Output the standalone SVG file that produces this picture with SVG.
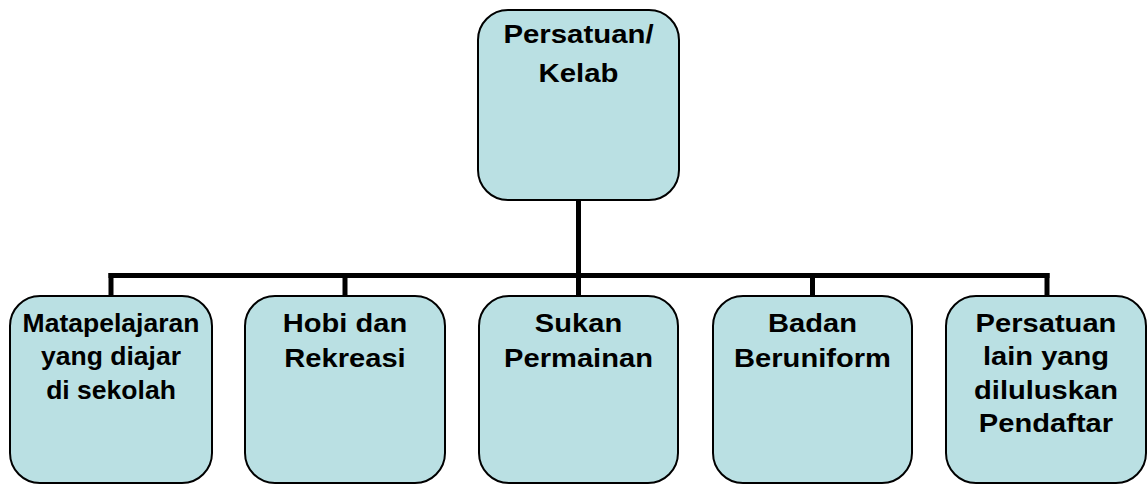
<svg xmlns="http://www.w3.org/2000/svg" width="1148" height="484" viewBox="0 0 1148 484">
<style>
.box{fill:#BAE0E3;stroke:#000;stroke-width:2}
.lbl{font-family:"Liberation Sans",Arial,sans-serif;font-weight:bold;font-size:26px;fill:#000;text-anchor:middle}
.con{fill:none;stroke:#000;stroke-width:5;stroke-linecap:square}
</style>
<rect width="1148" height="484" fill="#fff"/>
<g id="connectors">
<line class="con" x1="578.5" y1="201" x2="578.5" y2="275.5"/>
<line class="con" x1="111" y1="275.5" x2="1047" y2="275.5"/>
<line class="con" x1="111" y1="275.5" x2="111" y2="294"/>
<line class="con" x1="345" y1="275.5" x2="345" y2="294"/>
<line class="con" x1="578.5" y1="275.5" x2="578.5" y2="294"/>
<line class="con" x1="812.5" y1="275.5" x2="812.5" y2="294"/>
<line class="con" x1="1047" y1="275.5" x2="1047" y2="294"/>
</g>
<g id="node-persatuan-kelab">
<rect class="box" x="478" y="10" width="201" height="190" rx="30"/>
<g transform="translate(578.5,0) scale(1.13,1)">
<text class="lbl" x="0" y="43">Persatuan/</text>
<text class="lbl" x="0" y="82">Kelab</text>
</g>
</g>
<g id="node-matapelajaran">
<rect class="box" x="10" y="296" width="202" height="187" rx="30"/>
<g transform="translate(111,0) scale(1.02,1)">
<text class="lbl" x="0" y="332">Matapelajaran</text>
<text class="lbl" x="0" y="365.5">yang diajar</text>
<text class="lbl" x="0" y="399">di sekolah</text>
</g>
</g>
<g id="node-hobi">
<rect class="box" x="245" y="296" width="200" height="187" rx="30"/>
<g transform="translate(345,0) scale(1.12,1)">
<text class="lbl" x="0" y="332.5">Hobi dan</text>
<text class="lbl" x="0" y="367">Rekreasi</text>
</g>
</g>
<g id="node-sukan">
<rect class="box" x="479" y="296" width="199" height="187" rx="30"/>
<g transform="translate(578.5,0) scale(1.12,1)">
<text class="lbl" x="0" y="332.5">Sukan</text>
<text class="lbl" x="0" y="367">Permainan</text>
</g>
</g>
<g id="node-badan">
<rect class="box" x="713" y="296" width="199" height="187" rx="30"/>
<g transform="translate(812.5,0) scale(1.12,1)">
<text class="lbl" x="0" y="332.5">Badan</text>
<text class="lbl" x="0" y="367">Beruniform</text>
</g>
</g>
<g id="node-persatuan-lain">
<rect class="box" x="946" y="296" width="200" height="187" rx="30"/>
<g transform="translate(1046,0) scale(1.12,1)">
<text class="lbl" x="0" y="332">Persatuan</text>
<text class="lbl" x="0" y="365.5">lain yang</text>
<text class="lbl" x="0" y="399">diluluskan</text>
<text class="lbl" x="0" y="432.5">Pendaftar</text>
</g>
</g>
</svg>
